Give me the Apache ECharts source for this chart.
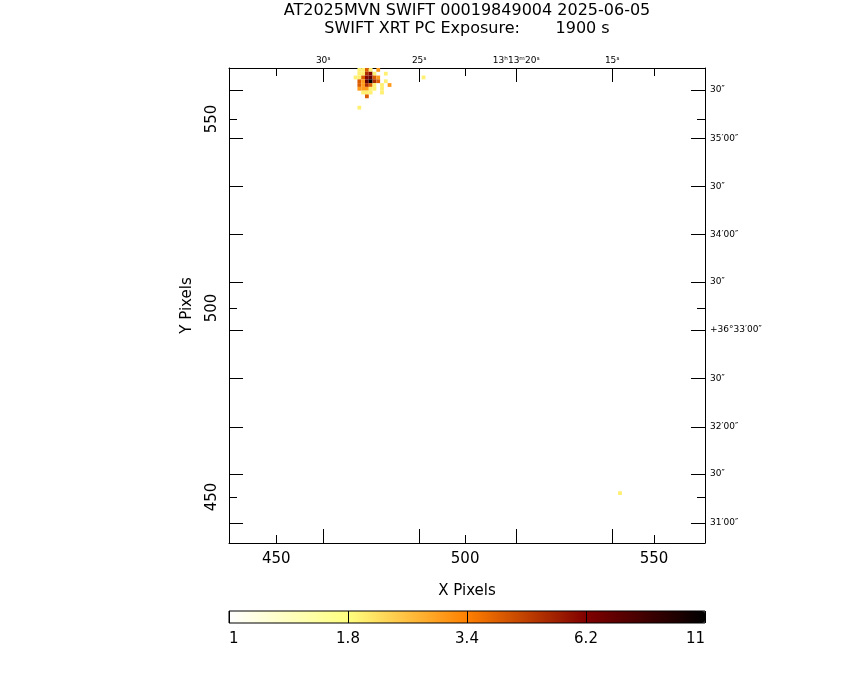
<!DOCTYPE html>
<html><head><meta charset="utf-8">
<script src="https://cdn.jsdelivr.net/npm/echarts@6/dist/echarts.min.js"></script>
<style>html,body{margin:0;padding:0;background:#fff}#c{width:850px;height:680px}</style>
</head><body><div id="c"></div>
<script>
// ---- data ----
const titleLines = ['AT2025MVN SWIFT 00019849004 2025-06-05', 'SWIFT XRT PC Exposure:       1900 s'];
// image pixels (x, y, value in colour-bar units)
const pixX = [472,473,474,475,477, 472,473,474,475,476,479, 471,472,473,474,475,476,477,489, 472,473,474,475,476,477,479, 472,473,474,475,476,478,480, 472,473,474,475,476,478, 473,474,475,478, 474, 472, 541];
const pixY = [563,563,563,563,563, 562,562,562,562,562,562, 561,561,561,561,561,561,561,561, 560,560,560,560,560,560,560, 559,559,559,559,559,559,559, 558,558,558,558,558,558, 557,557,557,557, 556, 553, 451];
const pixVal = [2,2,4,2,3, 2,2,5,6,2,2, 2,2,4,6,7,4,3,2, 4,3,7,11,5,4,2, 4,3,5,4,2,2,3, 3,3,3,2,2,2, 2,2,2,2, 4, 2, 2];
const xPixTicks = [450, 500, 550];
const yPixTicks = [450, 500, 550];
const raTickPos = [462.46, 487.87, 513.55, 538.96];
const raTickLabels = ['30ˢ', '25ˢ', '13ʰ13ᵐ20ˢ', '15ˢ'];
const decTickPos = [557.68, 544.89, 532.08, 519.48, 506.86, 494.15, 481.37, 468.56, 456.04, 443.14];
const decTickLabels = ['30″', '35′00″', '30″', '34′00″', '30″', '+36°33′00″', '30″', '32′00″', '30″', '31′00″'];
const cbarTickLabels = ['1', '1.8', '3.4', '6.2', '11'];
const cbarColors = ['#ffffff', '#ffff80', '#ff8000', '#800000', '#000000'];

// colour-bar scale: value -> position 0..1
function valToT(v) { return Math.log10(1 + 0.9 * (v - 1)); }
function nearestLabel(pos, labels, v) {
  let bi = 0, bd = Infinity;
  pos.forEach((p, i) => { const d = Math.abs(p - v); if (d < bd) { bd = d; bi = i; } });
  return labels[bi];
}

const FONT = 'DejaVu Sans';
const X_MIN = 437.5, X_MAX = 563.5, Y_MIN = 437.8, Y_MAX = 563.5;
const black = { color: '#000', width: 1 };

const chart = echarts.init(document.getElementById('c'));
const option = {
  animation: false,
  backgroundColor: '#fff',
  textStyle: { fontFamily: FONT },
  graphic: [
    { type: 'text', x: 467, y: 11, style: { text: titleLines[0], fill: '#000', font: '16px "DejaVu Sans"', textAlign: 'center', textVerticalAlign: 'middle' } },
    { type: 'text', x: 467, y: 29, style: { text: titleLines[1], fill: '#000', font: '16px "DejaVu Sans"', textAlign: 'center', textVerticalAlign: 'middle' } }
  ],
  grid: [
    { left: 229, top: 68, width: 476, height: 475, show: false },
    { left: 229, top: 611, width: 476, height: 12, show: true, backgroundColor: 'transparent', borderColor: '#000', borderWidth: 1, z: 10 }
  ],
  xAxis: [
    { gridIndex: 0, type: 'value', position: 'bottom', min: X_MIN, max: X_MAX,
      axisLine: { show: true, lineStyle: black },
      axisTick: { show: true, inside: true, length: 8, customValues: xPixTicks, lineStyle: black },
      axisLabel: { show: true, customValues: xPixTicks, color: '#000', fontSize: 15, fontFamily: FONT, margin: 9 },
      splitLine: { show: false },
      name: 'X Pixels', nameLocation: 'middle', nameGap: 41,
      nameTextStyle: { color: '#000', fontSize: 15, fontFamily: FONT } },
    { gridIndex: 0, type: 'value', position: 'top', min: X_MIN, max: X_MAX,
      axisLine: { show: true, lineStyle: black },
      axisTick: { show: true, inside: true, length: 8, customValues: xPixTicks, lineStyle: black },
      axisLabel: { show: false }, splitLine: { show: false } },
    { gridIndex: 0, type: 'value', position: 'bottom', min: X_MIN, max: X_MAX,
      axisLine: { show: false },
      axisTick: { show: true, inside: true, length: 14, customValues: raTickPos, lineStyle: black },
      axisLabel: { show: false }, splitLine: { show: false } },
    { gridIndex: 0, type: 'value', position: 'top', min: X_MIN, max: X_MAX,
      axisLine: { show: false },
      axisTick: { show: true, inside: true, length: 14, customValues: raTickPos, lineStyle: black },
      axisLabel: { show: true, customValues: raTickPos, color: '#000', fontSize: 9, fontFamily: FONT, margin: 3,
        formatter: v => nearestLabel(raTickPos, raTickLabels, v) },
      splitLine: { show: false } },
    { gridIndex: 1, type: 'value', position: 'bottom', min: 0, max: 1, interval: 0.25, z: 10,
      axisLine: { show: false },
      axisTick: { show: true, inside: true, length: 12, lineStyle: black },
      axisLabel: { show: true, color: '#000', fontSize: 15, fontFamily: FONT, margin: 9,
        alignMinLabel: 'left', alignMaxLabel: 'right',
        formatter: v => cbarTickLabels[Math.round(v * 4)] },
      splitLine: { show: false } }
  ],
  yAxis: [
    { gridIndex: 0, type: 'value', position: 'left', min: Y_MIN, max: Y_MAX,
      axisLine: { show: true, lineStyle: black },
      axisTick: { show: true, inside: true, length: 8, customValues: yPixTicks, lineStyle: black },
      axisLabel: { show: true, customValues: yPixTicks, rotate: 90, color: '#000', fontSize: 15, fontFamily: FONT, margin: 9 },
      splitLine: { show: false },
      name: 'Y Pixels', nameLocation: 'middle', nameGap: 34, nameRotate: 90,
      nameTextStyle: { color: '#000', fontSize: 15, fontFamily: FONT } },
    { gridIndex: 0, type: 'value', position: 'right', min: Y_MIN, max: Y_MAX,
      axisLine: { show: true, lineStyle: black },
      axisTick: { show: true, inside: true, length: 8, customValues: yPixTicks, lineStyle: black },
      axisLabel: { show: false }, splitLine: { show: false } },
    { gridIndex: 0, type: 'value', position: 'left', min: Y_MIN, max: Y_MAX,
      axisLine: { show: false },
      axisTick: { show: true, inside: true, length: 14, customValues: decTickPos, lineStyle: black },
      axisLabel: { show: false }, splitLine: { show: false } },
    { gridIndex: 0, type: 'value', position: 'right', min: Y_MIN, max: Y_MAX,
      axisLine: { show: false },
      axisTick: { show: true, inside: true, length: 14, customValues: decTickPos, lineStyle: black },
      axisLabel: { show: true, customValues: decTickPos, color: '#000', fontSize: 9, fontFamily: FONT, margin: 5,
        formatter: v => nearestLabel(decTickPos, decTickLabels, v) },
      splitLine: { show: false } },
    { gridIndex: 1, type: 'value', show: false, min: 0, max: 1 }
  ],
  visualMap: [{
    type: 'continuous', seriesIndex: 0, dimension: 3, min: 0, max: 1,
    inRange: { color: cbarColors },
    orient: 'horizontal', left: 229, top: 611, itemWidth: 12, itemHeight: 476,
    calculable: false, hoverLink: false, padding: 0, text: null, show: true
  }],
  series: [{
    type: 'custom', xAxisIndex: 0, yAxisIndex: 0, clip: true,
    data: pixX.map((x, i) => [x, pixY[i], pixVal[i], valToT(pixVal[i])]),
    encode: { x: 0, y: 1 },
    renderItem: (params, api) => {
      const x = api.value(0), y = api.value(1);
      const p0 = api.coord([x - 0.5, y + 0.5]);
      const p1 = api.coord([x + 0.5, y - 0.5]);
      return { type: 'rect', shape: { x: p0[0], y: p0[1], width: p1[0] - p0[0], height: p1[1] - p0[1] },
        style: { fill: api.visual('color') } };
    }
  }]
};
chart.setOption(option);
</script>
</body></html>
